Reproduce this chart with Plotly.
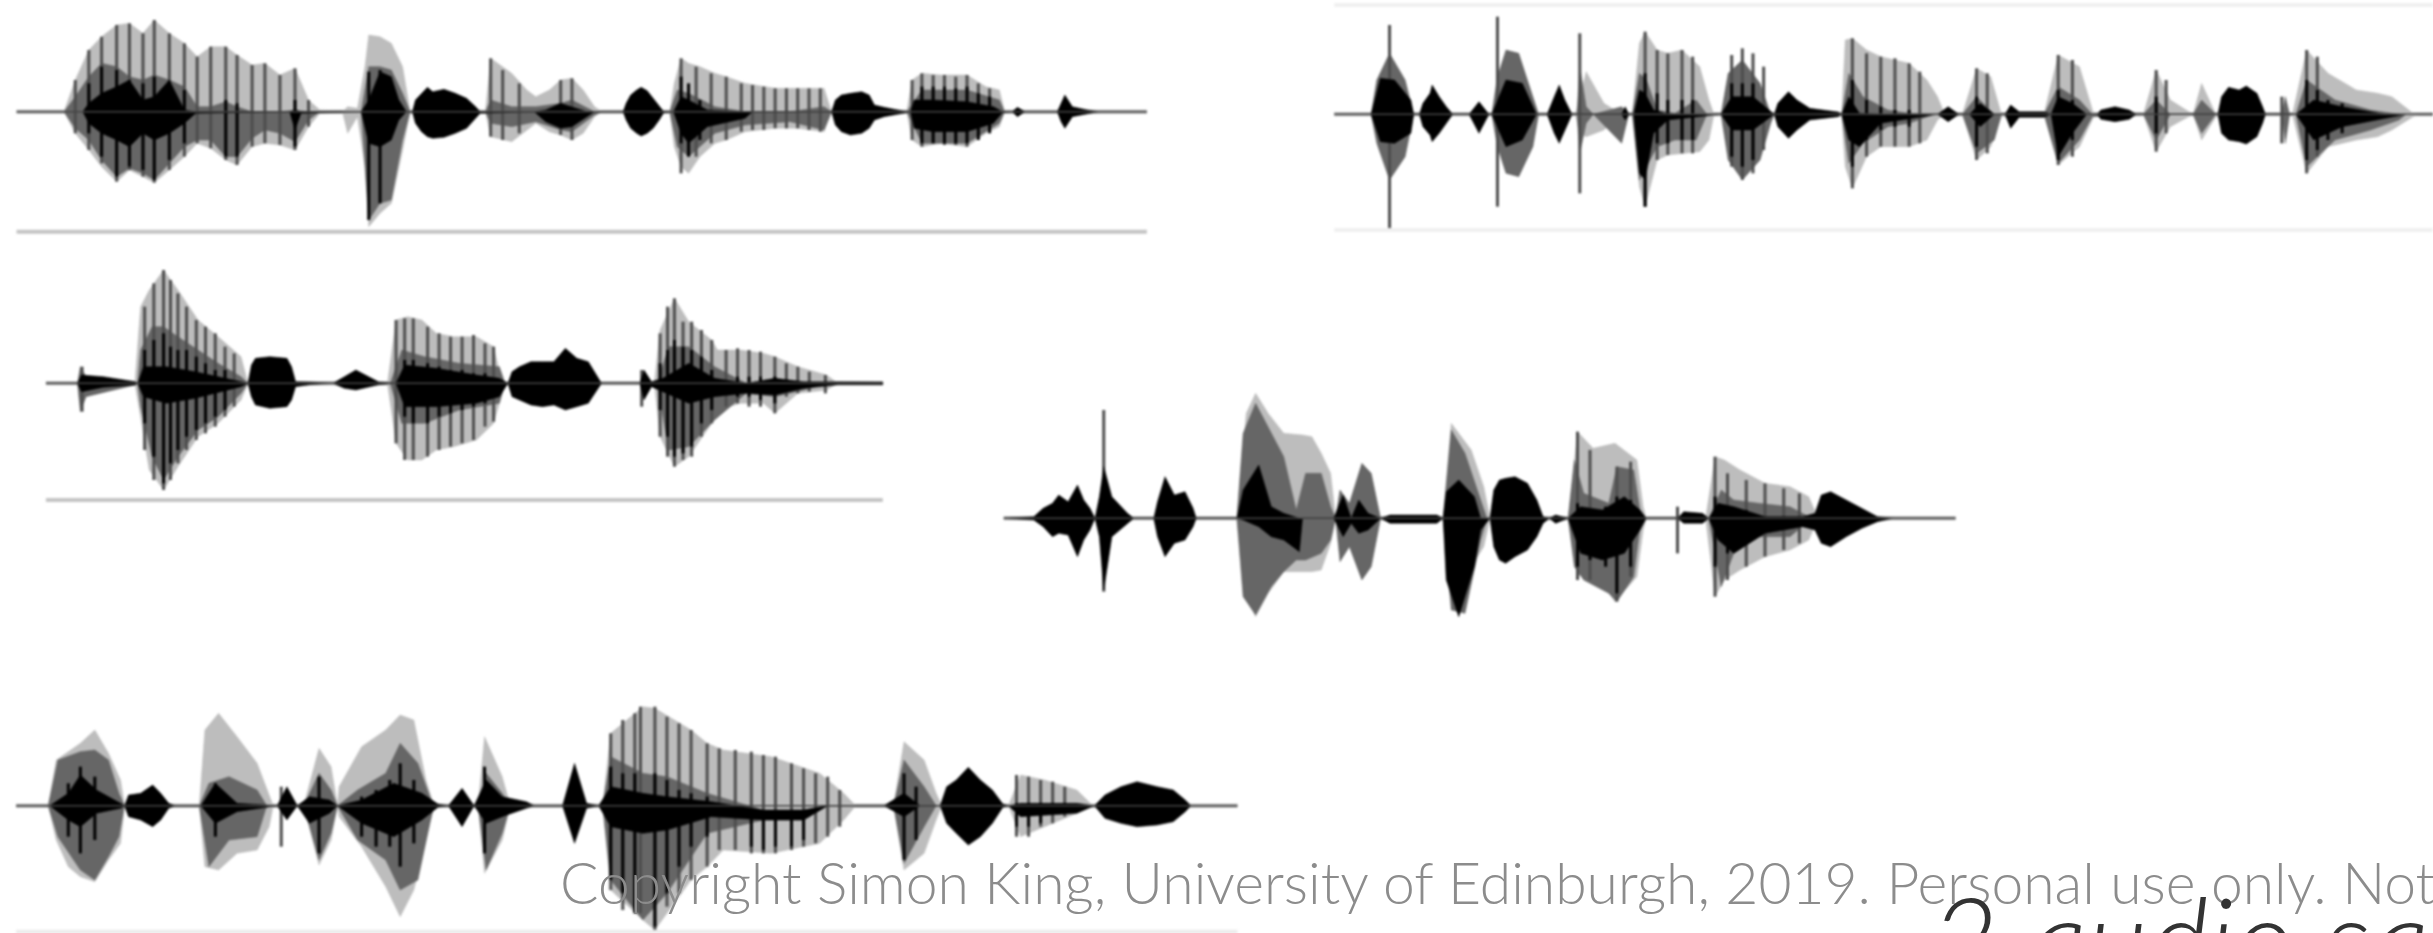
import plotly.graph_objects as go

# Each waveform in its own crop units.
# Rows are (time, upper edge, lower edge).
W1_LIGHT = [(85,335,335),(100,240,400),(118,150,450),(135,110,500),(155,75,545),(172,70,510),(190,100,530),(205,60,548),(225,100,510),(245,130,470),(262,170,430),(280,140,445),(300,140,480),(315,165,495),(335,195,440),(352,190,430),(372,225,435),(392,205,450),(410,300,380),(425,330,340),(455,335,335),(462,320,400),(475,325,350),(485,200,500),(490,105,680),(505,110,640),(520,130,610),(535,200,450),(545,335,335),(645,335,335),(652,175,410),(680,220,425),(700,270,390),(712,290,370),(730,270,395),(745,240,405),(760,235,420),(775,270,400),(790,320,350),(800,335,335),(890,335,335),(896,250,440),(905,175,500),(915,190,520),(930,200,470),(950,220,430),(965,230,420),(990,250,395),(1030,265,385),(1060,265,385),(1095,265,395),(1105,335,335),(1205,335,335),(1212,240,420),(1225,220,440),(1250,225,430),(1285,225,440),(1310,260,400),(1328,270,380),(1335,335,335)]
W1_DARK = [(85,335,335),(100,290,385),(118,230,420),(135,190,480),(155,200,530),(172,230,505),(190,240,520),(205,225,540),(225,240,490),(245,260,440),(262,320,420),(280,320,420),(300,305,470),(315,320,470),(335,335,415),(352,335,390),(372,335,400),(392,330,425),(410,335,360),(425,335,335),(480,335,335),(490,200,660),(505,200,610),(520,210,600),(535,280,420),(545,335,335),(645,335,335),(652,300,370),(680,320,380),(712,320,365),(745,310,390),(760,300,395),(790,335,345),(800,335,335),(890,335,335),(900,270,440),(915,280,470),(950,320,400),(990,335,375),(1050,335,365),(1095,320,390),(1105,335,335),(1205,335,335),(1225,270,430),(1285,270,430),(1328,300,370),(1335,335,335)]
W1_BLACK = [(110,335,335),(118,310,370),(135,280,400),(155,260,420),(172,240,440),(190,300,400),(205,290,420),(225,240,400),(245,330,370),(260,335,340),(385,335,335),(392,330,390),(400,335,340),(480,335,335),(490,300,430),(505,215,440),(520,230,420),(530,300,360),(540,335,335),(548,335,335),(552,300,370),(560,280,395),(568,262,410),(575,275,415),(590,268,412),(605,280,400),(620,295,385),(632,320,355),(638,335,340),(710,335,335),(725,330,365),(745,310,385),(760,320,380),(780,335,350),(790,335,335),(828,335,335),(832,310,360),(838,285,385),(846,270,400),(852,262,408),(860,272,400),(868,295,385),(876,318,360),(882,335,338),(895,335,335),(905,290,400),(915,300,430),(940,330,380),(990,335,355),(1000,335,335),(1105,335,335),(1110,300,375),(1118,285,395),(1130,280,405),(1145,275,400),(1155,285,385),(1162,315,360),(1175,322,350),(1200,333,340),(1210,335,335),(1215,300,385),(1240,300,395),(1285,305,395),(1320,320,370),(1332,335,338),(1345,335,335),(1352,322,350),(1362,335,335),(1405,335,335),(1410,310,365),(1415,285,385),(1425,320,350),(1445,330,342),(1460,335,335)]
W1_PULSES = [(100,240,400),(118,150,450),(135,110,490),(155,75,545),(172,70,510),(190,100,530),(205,60,548),(225,100,510),(245,130,470),(262,170,430),(280,140,445),(300,140,480),(315,165,495),(335,195,440),(352,190,430),(372,225,435),(392,205,450),(410,300,380),(652,175,410),(668,210,420),(690,250,400),(745,240,405),(760,235,420),(905,175,520),(925,200,470),(945,220,430),(965,230,420),(985,250,395),(1000,255,390),(1015,260,390),(1030,265,385),(1045,265,385),(1060,265,385),(1075,265,390),(1090,265,395),(1212,240,420),(1225,220,440),(1240,225,430),(1255,225,435),(1270,230,435),(1285,225,440),(1300,250,410),(1315,265,390)]
W1_STRIPES = [(118,250,400),(135,200,470),(155,210,530),(172,240,500),(190,250,510),(205,230,540),(225,245,480),(245,270,430),(300,300,470),(315,310,470),(392,300,440),(490,215,660),(505,210,610),(905,230,430),(915,250,470),(930,300,420),(1225,260,430),(1240,260,430),(1255,260,430),(1270,265,430),(1285,260,430),(1300,280,420),(1315,290,400)]

W2_LIGHT = [(360,343,343),(366,290,400),(375,215,410),(400,310,390),(418,335,350),(425,343,343),(440,343,343),(450,130,560),(458,95,620),(475,150,480),(490,160,465),(510,150,460),(535,200,455),(548,300,420),(555,343,343),(735,343,343),(740,120,500),(750,115,565),(770,150,470),(790,170,440),(830,190,440),(855,240,420),(870,290,360),(880,343,343),(905,343,343),(925,205,480),(945,230,440),(960,343,350),(1020,343,343),(1040,165,495),(1070,200,440),(1090,343,350),(1160,343,343),(1178,210,455),(1198,300,380),(1230,343,343),(1242,250,420),(1262,343,350),(1370,343,343),(1390,150,520),(1420,220,440),(1460,270,420),(1490,280,410),(1510,290,390),(1540,340,350),(1550,343,343)]
W2_DARK = [(72,343,343),(80,240,430),(98,160,540),(120,240,470),(132,343,343),(242,343,343),(250,230,440),(262,150,520),(280,160,530),(300,290,440),(308,343,343),(362,343,343),(366,200,460),(375,320,370),(385,343,343),(425,320,430),(435,343,343),(440,343,343),(450,220,540),(460,240,500),(475,330,440),(500,340,420),(530,300,420),(545,343,343),(565,343,343),(575,220,480),(595,180,540),(620,250,480),(635,343,370),(640,343,343),(735,343,343),(745,220,490),(765,290,430),(800,330,380),(830,340,370),(865,343,343),(905,343,343),(925,290,460),(950,343,420),(960,343,343),(1020,343,343),(1040,260,490),(1070,300,420),(1088,343,350),(1160,343,343),(1178,300,420),(1198,343,343),(1230,343,343),(1242,300,400),(1262,343,343),(1355,343,343),(1360,290,430),(1366,343,343),(1375,343,343),(1390,240,500),(1430,300,420),(1480,330,390),(1520,343,360),(1530,343,343)]
W2_BLACK = [(72,343,343),(85,235,425),(105,240,430),(128,300,400),(132,343,343),(140,343,343),(145,310,380),(155,280,405),(158,255,425),(168,290,400),(178,320,370),(187,343,343),(210,343,343),(224,305,400),(238,343,343),(242,343,343),(262,240,440),(285,250,420),(305,343,343),(320,343,343),(330,290,400),(337,255,430),(345,300,390),(355,343,343),(425,343,343),(430,320,360),(435,343,343),(442,343,343),(450,270,520),(458,280,540),(470,330,400),(490,343,360),(565,343,343),(580,290,390),(610,290,390),(640,343,343),(645,310,380),(660,275,415),(672,300,390),(690,325,360),(730,336,350),(735,343,343),(745,290,420),(760,340,440),(790,343,370),(870,343,343),(885,320,365),(900,343,343),(915,343,343),(930,310,380),(950,343,343),(965,343,343),(973,315,385),(985,335,352),(1020,335,352),(1030,343,343),(1040,290,470),(1060,310,400),(1080,343,343),(1095,343,343),(1100,330,358),(1120,320,365),(1140,330,358),(1150,343,343),(1265,343,343),(1270,290,400),(1280,262,420),(1295,270,425),(1305,258,432),(1320,280,410),(1328,320,370),(1332,343,343),(1375,343,343),(1400,300,420),(1440,320,380),(1500,343,355),(1530,343,343)]
W2_PULSES = [(98,75,690),(250,50,620),(366,100,580),(458,95,620),(475,150,480),(490,160,465),(510,150,460),(525,170,460),(580,165,500),(595,145,540),(610,160,520),(625,200,450),(750,115,565),(770,160,470),(790,170,440),(810,175,440),(830,190,440),(845,215,430),(925,205,480),(940,220,460),(1040,165,495),(1060,180,470),(1178,210,455),(1192,240,400),(1355,290,430),(1390,150,520),(1405,170,470)]
W2_STRIPES = [(458,220,620),(475,280,430),(490,300,430),(510,300,420),(525,300,420),(580,250,470),(595,250,500),(610,250,480),(750,240,500),(770,300,420),(790,320,390),(810,330,380),(830,330,380),(925,290,440),(1040,270,480),(1060,300,420),(1178,290,400),(1390,240,480),(1405,270,450),(1420,300,420),(1440,310,400)]

W3_LIGHT = [(235,400,400),(245,170,500),(260,120,660),(285,60,720),(310,120,650),(345,210,560),(380,260,520),(420,320,450),(432,400,400),(675,400,400),(690,210,580),(710,200,630),(735,210,630),(760,250,600),(790,260,590),(830,260,570),(860,290,520),(875,400,430),(880,400,400),(1140,400,400),(1150,240,560),(1175,145,650),(1200,215,620),(1240,270,520),(1250,300,480),(1290,300,460),(1330,310,460),(1350,320,490),(1390,350,430),(1440,375,420),(1460,400,400)]
W3_DARK = [(135,400,400),(140,350,485),(150,380,440),(235,395,405),(240,400,400),(245,300,470),(265,230,620),(285,230,690),(310,260,620),(345,300,540),(380,340,500),(420,380,430),(432,400,400),(680,400,400),(700,300,520),(740,320,520),(800,340,480),(870,350,460),(880,400,400),(1145,400,400),(1165,290,600),(1200,290,590),(1245,350,510),(1300,400,430),(1350,400,440),(1400,400,420),(1440,400,400)]
W3_BLACK = [(135,400,400),(142,375,425),(180,380,412),(235,395,405),(240,400,400),(250,350,440),(290,350,460),(340,365,445),(420,395,410),(432,400,400),(438,345,440),(445,325,465),(470,320,475),(500,325,470),(508,350,450),(515,395,410),(540,396,404),(580,400,400),(600,380,415),(620,360,420),(660,396,404),(690,400,400),(705,345,470),(760,355,470),(830,375,460),(870,385,440),(885,400,400),(892,365,440),(905,350,450),(925,335,465),(945,335,470),(965,335,465),(985,295,480),(1005,325,470),(1025,335,460),(1040,380,420),(1048,400,400),(1115,400,400),(1122,360,450),(1135,395,410),(1155,385,425),(1200,340,460),(1245,385,440),(1300,400,430),(1350,385,435),(1400,395,415),(1460,396,404),(1538,396,404)]
W3_PULSES = [(143,350,485),(252,170,600),(268,100,690),(285,60,720),(297,90,690),(310,130,640),(325,170,600),(342,210,570),(358,230,550),(375,250,530),(392,290,500),(408,310,470),(690,210,580),(705,205,630),(720,205,630),(745,230,620),(765,250,600),(785,260,590),(805,260,580),(825,255,570),(845,280,530),(860,290,515),(1118,360,470),(1150,250,560),(1163,170,620),(1175,145,650),(1190,215,630),(1205,215,620),(1222,240,560),(1240,270,520),(1265,300,470),(1285,295,460),(1305,300,470),(1325,305,470),(1350,320,490),(1370,340,440),(1390,350,430),(1410,365,425),(1438,375,430)]
W3_STRIPES = [(252,300,520),(268,270,620),(285,250,700),(297,290,640),(310,300,600),(325,300,560),(342,320,540),(358,340,520),(375,360,500),(392,360,480),(705,330,500),(720,330,520),(745,340,520),(765,350,500),(785,360,490),(805,360,480),(825,370,470),(845,370,460),(1150,340,480),(1163,300,560),(1175,270,620),(1190,290,610),(1205,300,590),(1222,320,520),(1240,360,480),(1285,380,440),(1305,380,440),(1325,380,450),(1350,380,460)]

W4_LIGHT = [(395,415,415),(410,100,640),(425,40,710),(445,100,640),(470,160,575),(500,165,575),(515,170,575),(530,220,570),(545,280,490),(553,415,415),(725,415,415),(738,130,660),(770,210,560),(790,320,500),(800,415,415),(925,415,415),(940,155,590),(965,205,570),(1000,190,665),(1035,240,590),(1045,380,450),(1050,415,415),(1145,415,415),(1160,230,650),(1175,240,600),(1200,270,570),(1240,310,530),(1280,320,510),(1310,350,480),(1325,415,415)]
W4_DARK = [(395,415,415),(405,160,650),(425,70,705),(450,160,620),(470,230,575),(490,390,540),(505,280,540),(530,280,520),(545,380,480),(553,415,415),(560,330,545),(575,370,500),(595,250,600),(610,280,560),(625,415,415),(725,415,415),(738,150,690),(760,220,700),(785,360,480),(795,415,415),(925,415,415),(935,240,560),(950,340,600),(990,370,640),(1003,260,665),(1030,270,590),(1042,415,415),(1150,415,415),(1170,330,620),(1190,360,520),(1230,370,470),(1280,380,470),(1315,415,415)]
W4_BLACK = [(22,415,415),(70,410,420),(85,385,440),(100,370,470),(110,345,460),(125,365,465),(140,315,530),(150,360,480),(160,385,450),(168,415,415),(175,350,470),(182,260,630),(195,350,470),(220,400,430),(230,415,415),(262,415,415),(268,365,470),(280,290,530),(295,345,490),(312,335,480),(325,385,440),(330,415,415),(395,415,415),(405,330,420),(430,255,440),(450,380,470),(470,400,480),(495,415,515),(500,415,415),(550,415,415),(565,345,470),(578,415,430),(590,360,460),(605,400,450),(625,415,415),(640,405,430),(715,405,430),(725,415,415),(730,335,600),(750,300,710),(775,350,560),(785,415,450),(800,415,415),(806,330,500),(815,300,540),(825,295,550),(840,290,530),(860,310,510),(875,360,470),(885,410,430),(895,415,415),(905,405,430),(925,415,415),(945,380,520),(980,390,540),(1015,350,520),(1040,390,450),(1050,415,415),(1100,415,415),(1110,395,430),(1140,400,430),(1150,415,415),(1165,370,480),(1190,380,520),(1240,410,460),(1300,410,440),(1320,400,450),(1330,345,490),(1345,335,500),(1370,360,470),(1395,385,445),(1420,410,425),(1445,415,415)]
W4_PULSES = [(182,90,635),(1100,380,520),(1003,260,665),(960,210,600),(940,155,600),(1025,245,590),(1160,230,650),(1180,280,600),(1210,300,560),(1240,310,530),(1270,325,510),(1295,340,490)]
W4_STRIPES = [(940,370,560),(960,390,540),(985,380,560),(1003,350,640),(1025,360,560),(1160,350,560),(1180,380,520),(1210,390,480)]

W5_LIGHT = [(60,377,377),(70,240,480),(85,215,560),(100,190,590),(118,150,605),(135,220,540),(150,300,490),(155,377,377),(248,377,377),(255,150,560),(272,100,570),(295,170,520),(320,250,510),(335,350,440),(340,377,377),(378,377,377),(397,205,555),(412,260,480),(420,377,377),(422,320,410),(450,200,500),(480,150,620),(498,105,710),(515,120,630),(530,300,480),(540,377,377),(595,377,377),(603,170,580),(625,290,480),(635,377,377),(750,377,377),(760,160,630),(800,80,720),(815,85,750),(860,150,600),(880,190,560),(900,210,510),(960,230,520),(1020,280,490),(1050,340,420),(1065,377,377),(1112,377,377),(1125,185,570),(1150,240,520),(1165,340,420),(1172,377,377),(1255,377,377),(1270,285,470),(1300,300,440),(1340,330,400),(1360,377,377)]
W5_DARK = [(60,377,377),(72,240,470),(100,215,570),(118,210,600),(135,240,530),(148,340,470),(155,377,377),(248,377,377),(260,310,560),(285,290,480),(320,330,470),(332,377,377),(378,377,377),(397,280,540),(412,330,460),(420,377,377),(445,330,480),(480,280,540),(498,190,630),(520,250,600),(535,350,430),(540,377,377),(595,377,377),(605,280,570),(625,340,460),(635,377,377),(750,377,377),(760,230,600),(800,280,720),(830,290,640),(880,340,460),(950,390,420),(1000,390,420),(1030,377,377),(1112,377,377),(1125,240,550),(1150,320,440),(1165,377,377)]
W5_BLACK = [(62,377,377),(85,340,420),(100,285,440),(120,330,400),(150,370,385),(155,377,377),(160,345,410),(175,340,420),(190,315,440),(200,340,420),(210,370,385),(218,377,377),(250,377,377),(268,310,430),(295,370,395),(345,377,377),(357,320,420),(370,377,377),(385,350,430),(410,360,400),(420,377,377),(450,360,430),(490,310,470),(525,340,420),(545,372,382),(558,377,377),(575,325,440),(590,377,377),(605,300,430),(625,350,410),(655,365,385),(665,377,377),(700,377,377),(715,250,490),(730,370,385),(745,377,377),(760,320,440),(800,340,460),(830,350,450),(885,365,410),(950,390,420),(1000,390,420),(1030,377,377),(1100,377,377),(1125,340,410),(1145,377,377),(1170,377,377),(1178,320,430),(1190,300,460),(1205,262,495),(1220,300,470),(1235,330,430),(1248,372,382),(1255,377,377),(1270,370,410),(1340,370,400),(1362,377,377),(1375,345,415),(1395,320,430),(1415,305,440),(1440,320,435),(1460,330,425),(1475,360,395),(1482,377,377)]
W5_PULSES = [(350,320,500),(797,80,700),(815,80,750),(760,160,630),(775,120,690),(790,100,690),(830,110,680),(845,130,640),(860,150,600),(880,190,560),(895,205,510),(915,210,510),(935,215,520),(950,225,520),(965,230,520),(985,250,510),(1000,265,500),(1015,280,490),(1030,290,470),(1045,330,440),(1265,285,470),(1280,290,470),(1295,300,440),(1310,305,430),(1325,320,410)]
W5_STRIPES = [(85,310,470),(100,260,520),(118,290,480),(268,310,470),(397,290,520),(450,350,470),(468,330,500),(485,300,500),(498,250,560),(515,300,490),(603,260,520),(760,260,600),(775,280,640),(790,280,700),(815,280,740),(830,300,640),(845,330,560),(860,340,500),(880,350,470),(935,390,500),(950,390,510),(965,390,500),(985,390,500),(1000,390,480),(1125,280,540),(1140,320,480),(1265,370,440),(1280,370,440),(1295,370,430)]

WAVES = [
    dict(crop=(0, 0, 1180, 240), base=335, span=(22, 1524), light=W1_LIGHT, dark=W1_DARK, black=W1_BLACK, pulses=W1_PULSES, stripes=W1_STRIPES),
    dict(crop=(1320, 0, 1113, 240), base=343, span=(20, 1568), light=W2_LIGHT, dark=W2_DARK, black=W2_BLACK, pulses=W2_PULSES, stripes=W2_STRIPES),
    dict(crop=(0, 250, 900, 270), base=400, span=(80, 1538), light=W3_LIGHT, dark=W3_DARK, black=W3_BLACK, pulses=W3_PULSES, stripes=W3_STRIPES),
    dict(crop=(990, 380, 980, 250), base=415, span=(22, 1545), light=W4_LIGHT, dark=W4_DARK, black=W4_BLACK, pulses=W4_PULSES, stripes=W4_STRIPES),
    dict(crop=(0, 680, 1260, 253), base=377, span=(20, 1540), light=W5_LIGHT, dark=W5_DARK, black=W5_BLACK, pulses=W5_PULSES, stripes=W5_STRIPES),
]
# Ruled lines under the waveforms: (wave index, y, x0, x1, colour).
RULES = [(0, 695, 22, 1524, "#c4c4c4"), (1, 690, 20, 1568, "#f0f0f0"), (1, 15, 20, 1568, "#f0f0f0"),
         (2, 750, 80, 1538, "#c4c4c4"), (4, 755, 20, 1540, "#ececec")]
COPYRIGHT = "Copyright Simon King, University of Edinburgh, 2019. Personal use only. Not"
TITLE = "2 audio samples"

W, H = 2433, 933
LIGHT, DARK, BLACK = "#bdbdbd", "#666666", "#000000"
fig = go.Figure()


def polygon(rows):
    xs = [r[0] for r in rows] + [r[0] for r in reversed(rows)]
    ys = [r[1] for r in rows] + [r[2] for r in reversed(rows)]
    return xs, ys


def bars(rows):
    xs, ys = [], []
    for x, top, bot in rows:
        xs += [x, x, None]
        ys += [top, bot, None]
    return xs, ys


for i, wave in enumerate(WAVES):
    n = "" if i == 0 else str(i + 1)
    x0, y0, cw, ch = wave["crop"]
    fig.update_layout({
        f"xaxis{n}": dict(domain=[x0 / W, (x0 + cw) / W], range=[0, 1568], visible=False, fixedrange=True,
                          anchor=f"y{n}"),
        f"yaxis{n}": dict(domain=[1 - (y0 + ch) / H, 1 - y0 / H], range=[ch * 3, 0], visible=False, fixedrange=True,
                          anchor=f"x{n}"),
    })
    ax = dict(xaxis=f"x{n}", yaxis=f"y{n}", showlegend=False, hoverinfo="skip")
    fig.add_trace(go.Scatter(x=list(wave["span"]), y=[wave["base"]] * 2, mode="lines",
                             line=dict(color="#aaaaaa", width=4), **ax))
    for rows, colour in ((wave["light"], LIGHT), (wave["dark"], DARK)):
        xs, ys = polygon(rows)
        fig.add_trace(go.Scatter(x=xs, y=ys, mode="lines", fill="toself", fillcolor=colour,
                                 line=dict(color=colour, width=0.5), **ax))
    xs, ys = bars(wave["pulses"])
    fig.add_trace(go.Scatter(x=xs, y=ys, mode="lines", line=dict(color="#4d4d4d", width=3), **ax))
    xs, ys = polygon(wave["black"])
    fig.add_trace(go.Scatter(x=xs, y=ys, mode="lines", fill="toself", fillcolor=BLACK,
                             line=dict(color=BLACK, width=0.5), **ax))
    xs, ys = bars(wave["stripes"])
    fig.add_trace(go.Scatter(x=xs, y=ys, mode="lines", line=dict(color="#000000", width=3), **ax))
    fig.add_trace(go.Scatter(x=list(wave["span"]), y=[wave["base"]] * 2, mode="lines",
                             line=dict(color="#444444", width=1.5), **ax))

for idx, y, xa, xb, colour in RULES:
    n = "" if idx == 0 else str(idx + 1)
    fig.add_trace(go.Scatter(x=[xa, xb], y=[y, y], mode="lines", line=dict(color=colour, width=4),
                             xaxis=f"x{n}", yaxis=f"y{n}", showlegend=False, hoverinfo="skip"))

fig.add_annotation(text=COPYRIGHT, xref="paper", yref="paper", x=558 / W, y=1 - 918 / H, xanchor="left",
                   yanchor="bottom", showarrow=False,
                   font=dict(family="Lato", size=57, color="#8c8c8c", weight=300))
fig.add_annotation(text=TITLE, xref="paper", yref="paper", x=1928 / W, y=1 - 1010 / H, xanchor="left",
                   yanchor="bottom", showarrow=False,
                   font=dict(family="Lato", size=118, color="#333333", style="italic", weight=300))

fig.update_layout(width=W, height=H, margin=dict(l=0, r=0, t=0, b=0), plot_bgcolor="rgba(0,0,0,0)",
                  paper_bgcolor="white", showlegend=False)
fig.write_html("out.html", config=dict(displayModeBar=False),
               post_script="document.body.style.margin='0';"
                           "document.querySelectorAll('.scatterlayer').forEach(function(e){e.style.filter='blur(1.3px)';});")
